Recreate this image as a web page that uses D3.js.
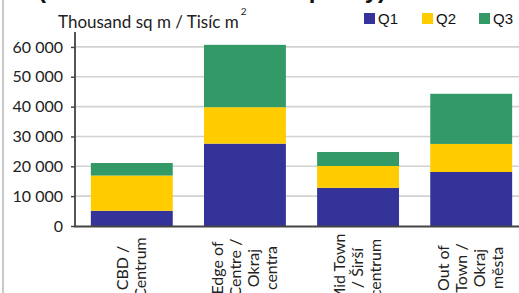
<!DOCTYPE html>
<html><head><meta charset="utf-8">
<script src="https://cdn.jsdelivr.net/npm/d3@7"></script>
<style>
html,body{margin:0;padding:0;background:#fff;overflow:hidden;}
svg{display:block;}
</style></head>
<body>
<script>
const categories = ["CBD / Centrum","Edge of Centre / Okraj centra","Mid Town / Širší centrum","Out of Town / Okraj města"];
const categoryLines = [["CBD /","Centrum"],["Edge of","Centre /","Okraj","centra"],["Mid Town","/ Širší","centrum"],["Out of","Town /","Okraj","města"]];
const seriesNames = ["Q1","Q2","Q3"];
const q1 = [5100, 27600, 12800, 18100];
const q2 = [11800, 12200, 7300, 9400];
const q3 = [4200, 20900, 4700, 16800];
const yTicks = [0,10000,20000,30000,40000,50000,60000];
const colors = ["#333399","#FFCC00","#339966"];
const axisTitle = "Thousand sq m / Tisíc m";

const W = 519, H = 293;
const svg = d3.select("body").append("svg").attr("width", W).attr("height", H);

const font = "Lato, 'Open Sans', sans-serif";

// left border
svg.append("line").attr("x1",3).attr("x2",3).attr("y1",0).attr("y2",H)
  .attr("stroke","#c8c8c8").attr("stroke-width",2);

// clipped title
svg.append("text").attr("x",38).attr("y",-2)
  .attr("font-family","'Liberation Sans', Arial, sans-serif").attr("font-weight","bold")
  .attr("font-size",24).attr("fill","#111")
  .text("(New Office Stock Occupancy)");

const x = d3.scaleBand().domain(categories).range([75, 528]).paddingInner(0.276).paddingOuter(0.14);
const y = d3.scaleLinear().domain([0, 65000]).range([226, 32]);

// gridlines
svg.append("g").selectAll("line").data(yTicks.filter(d=>d>0)).join("line")
  .attr("x1",75).attr("x2",W).attr("y1",d=>y(d)).attr("y2",d=>y(d))
  .attr("stroke","#d2d2d2").attr("stroke-width",1.6);

// stacked bars
const rows = categories.map((c,i)=>({cat:c, Q1:q1[i], Q2:q2[i], Q3:q3[i]}));
const stack = d3.stack().keys(seriesNames)(rows);
svg.append("g").selectAll("g").data(stack).join("g")
  .attr("fill",(d,i)=>colors[i])
  .selectAll("rect").data(d=>d).join("rect")
  .attr("x",d=>x(d.data.cat)).attr("width",x.bandwidth())
  .attr("y",d=>y(d[1])).attr("height",d=>y(d[0])-y(d[1]));

// y axis
const yAxis = d3.axisLeft(y).tickValues(yTicks).tickSize(4).tickPadding(8)
  .tickFormat(d=>d3.format(",")(d).replace(/,/g," "));
const gy = svg.append("g").attr("transform","translate(75,0)").call(yAxis);
gy.select(".domain").attr("stroke","#555").attr("stroke-width",2).attr("d","M0,32V226");
gy.selectAll(".tick line").attr("stroke","#444").attr("stroke-width",1.5);
gy.selectAll(".tick text").attr("font-family",font).attr("font-size",16).attr("fill","#222");

// x axis line
svg.append("line").attr("x1",74).attr("x2",W).attr("y1",226.5).attr("y2",226.5)
  .attr("stroke","#444").attr("stroke-width",2);

// category labels
const lab = svg.append("g");
categories.forEach((c,i)=>{
  const lines = categoryLines[i];
  const cx = x(c) + x.bandwidth()/2;
  lines.forEach((ln,j)=>{
    const off = (j - (lines.length-1)/2) * 18;
    lab.append("text")
      .attr("transform",`translate(${cx+off+5},268) rotate(-90)`)
      .attr("text-anchor","middle")
      .attr("font-family",font).attr("font-size",16).attr("fill","#222")
      .text(ln);
  });
});

// axis title
const t = svg.append("text").attr("x",58).attr("y",28)
  .attr("font-family",font).attr("font-size",17).attr("fill","#222");
t.append("tspan").text(axisTitle);
t.append("tspan").attr("font-size",10).attr("dy",-13).attr("dx",2).text("2");

// legend
const legX = [364, 422, 479];
const leg = svg.append("g");
seriesNames.forEach((s,i)=>{
  leg.append("rect").attr("x",legX[i]).attr("y",13).attr("width",11).attr("height",11).attr("fill",colors[i]);
  leg.append("text").attr("x",legX[i]+14).attr("y",24)
    .attr("font-family","'Liberation Sans', Arial, sans-serif").attr("font-size",15).attr("fill","#111")
    .text(s);
});
</script>
</body></html>
